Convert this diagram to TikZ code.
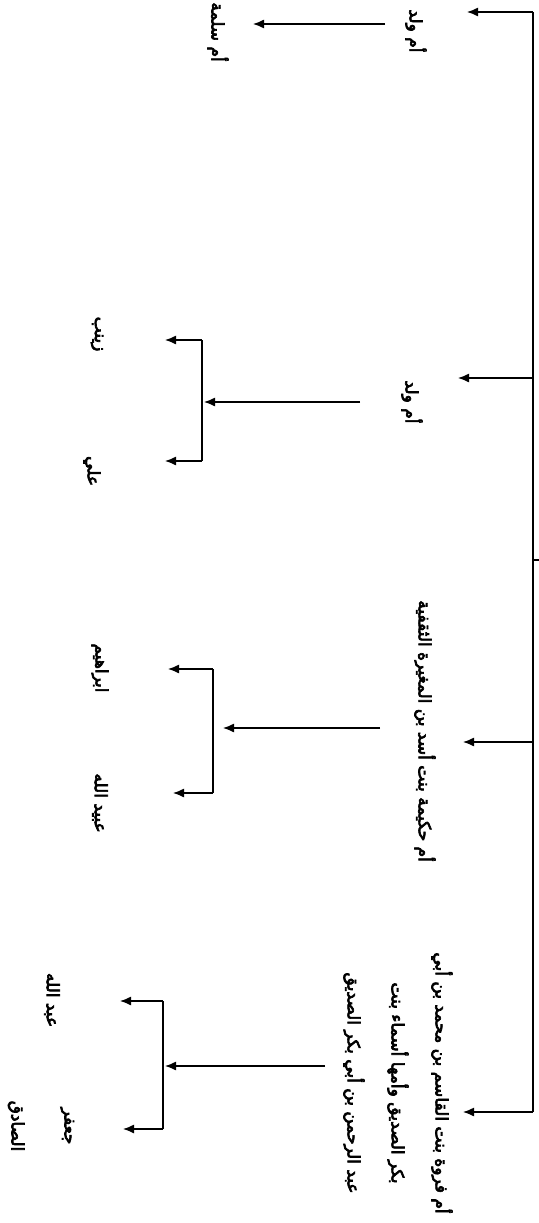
\documentclass[tikz,border=0pt]{standalone}
\usepackage{fontspec}
\usetikzlibrary{arrows.meta}
\TeXXeTstate=1
\newfontfamily\arabicfont[Script=Arabic, FakeBold=4]{DejaVu Sans}
\tikzset{
  arr/.style={draw=black, line width=1.3pt, -{Latex[length=11pt,width=9pt]}},
  ln/.style={draw=black, line width=1.3pt},
  lbl/.style={rotate=-90, inner sep=0pt, font=\arabicfont\fontsize{17}{20}\selectfont, align=center},
}
\begin{document}
\begin{tikzpicture}[x=1pt,y=-1pt]
\useasboundingbox (0,0) rectangle (538,1223);
% labels
\node[lbl] (m1) at (416,31) {\beginR أم ولد\endR};
\node[lbl] (c11) at (218,32) {\beginR أم سلمة\endR};
\node[lbl] (m2) at (412,402) {\beginR أم ولد\endR};
\node[lbl] (c21) at (97,334) {\beginR زينب\endR};
\node[lbl] (c22) at (92,471) {\beginR علي\endR};
\node[lbl] (m3) at (425,731) {\beginR أم حكيمة بنت أسد بن المغيرة الثقفية\endR};
\node[lbl] (c31) at (100,668) {\beginR ابراهيم\endR};
\node[lbl] (c32) at (100,803) {\beginR عبيد الله\endR};
\node[lbl, font=\arabicfont\fontsize{17}{44}\selectfont] (m4) at (398,1083) {\beginR أم فروة بنت القاسم بن محمد بن أبي\endR\\\beginR بكر الصديق وأمها أسماء بنت\endR\\\beginR عبد الرحمن بن أبي بكر الصديق\endR};
\node[lbl] (c41) at (52,1000) {\beginR عبد الله\endR};
\node[lbl, font=\arabicfont\fontsize{17}{53}\selectfont] (c42) at (41,1126) {\beginR جعفر\endR\\\beginR الصادق\endR};
% trunk
\coordinate (ttop) at (533,12);
\coordinate (tbot) at (533,1112);
\coordinate (t2) at (533,378);
\coordinate (t3) at (533,742);
\coordinate (tp) at (533,560);
\coordinate (parent) at (545,560);
\draw[ln] (ttop) -- (tbot);
\draw[ln] (parent) -- (tp);
\coordinate (e1) at (467,12);
\coordinate (e2) at (458,378);
\coordinate (e3) at (463,742);
\coordinate (e4) at (463,1112);
\draw[arr] (ttop) -- (e1);
\draw[arr] (t2) -- (e2);
\draw[arr] (t3) -- (e3);
\draw[arr] (tbot) -- (e4);
% first family
\coordinate (s1) at (385,24);
\coordinate (s1e) at (253,24);
\draw[arr] (s1) -- (s1e);
% bracket 1
\coordinate (b1s) at (360,402);
\coordinate (b1m) at (204,402);
\coordinate (b1t) at (202,340);
\coordinate (b1b) at (202,461);
\coordinate (b1te) at (165,340);
\coordinate (b1be) at (165,461);
\draw[arr] (b1s) -- (b1m);
\draw[ln] (b1t) -- (b1b);
\draw[arr] (b1t) -- (b1te);
\draw[arr] (b1b) -- (b1be);
% bracket 2
\coordinate (b2s) at (380,728);
\coordinate (b2m) at (223,728);
\coordinate (b2t) at (213,669);
\coordinate (b2b) at (213,793);
\coordinate (b2te) at (168,669);
\coordinate (b2be) at (173,793);
\draw[arr] (b2s) -- (b2m);
\draw[ln] (b2t) -- (b2b);
\draw[arr] (b2t) -- (b2te);
\draw[arr] (b2b) -- (b2be);
% bracket 3
\coordinate (b3s) at (325,1066);
\coordinate (b3m) at (165,1066);
\coordinate (b3t) at (163,1001);
\coordinate (b3b) at (163,1129);
\coordinate (b3te) at (120,1001);
\coordinate (b3be) at (123,1129);
\draw[arr] (b3s) -- (b3m);
\draw[ln] (b3t) -- (b3b);
\draw[arr] (b3t) -- (b3te);
\draw[arr] (b3b) -- (b3be);
\end{tikzpicture}
\end{document}
